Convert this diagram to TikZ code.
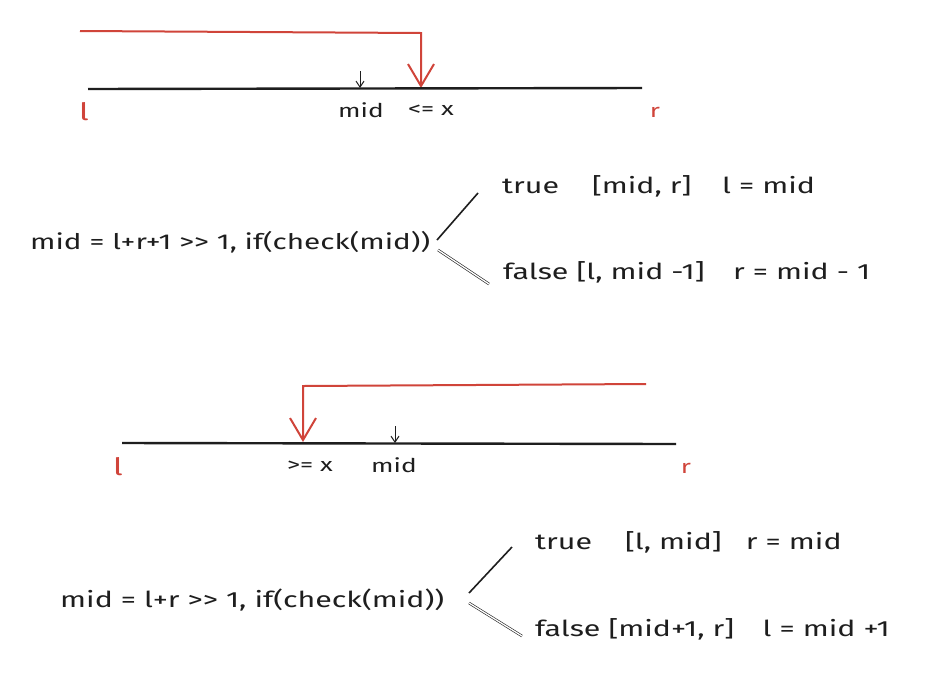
\documentclass[tikz,border=0pt]{standalone}
\usepackage{fontspec}
\setmainfont{Fira Sans}[FakeStretch=1.38, Ligatures=NoCommon]
\usetikzlibrary{arrows.meta}
\definecolor{rd}{HTML}{D0443A}
\definecolor{ink}{HTML}{1E1E1E}
\tikzset{
  redline/.style={draw=rd, line width=2pt},
  axis/.style={draw=ink, line width=2.4pt},
  midarrow/.style={draw=ink, line width=1pt, -{Straight Barb[length=6pt,width=8pt,line width=1pt]}},
  bigarrow/.style={redline, -{Straight Barb[length=22pt,width=26pt,line width=2pt]}},
  lbl/.style={inner sep=0pt, font=\fontsize{19}{22}\selectfont, text=ink},
  redlbl/.style={lbl, text=rd},
  stmt/.style={inner sep=0pt, anchor=west, font=\fontsize{22}{26}\selectfont, text=ink},
  branch/.style={draw=ink, line width=1.6pt},
  dbranch/.style={draw=ink, line width=0.6pt, double=white, double distance=1.3pt},
}
\begin{document}
\begin{tikzpicture}[x=1pt,y=-1pt]
\useasboundingbox[fill=white] (0,0) rectangle (944,694);
% ---------- top ----------
\coordinate (t1a) at (80,31);
\coordinate (t1b) at (421,33);
\coordinate (t1c) at (421,88);
\draw[bigarrow] (t1a) -- (t1b) -- (t1c);
\coordinate (ax1l) at (88,89);
\coordinate (ax1r) at (642,88);
\draw[axis] (ax1l) -- (ax1r);
\coordinate (m1a) at (360,71);
\coordinate (m1b) at (360,88);
\draw[midarrow] (m1a) -- (m1b);
\node[redlbl, font=\fontsize{24}{28}\selectfont] (l1) at (84,112) {l};
\node[lbl] (mid1) at (361,110) {mid};
\node[lbl] (le1) at (431,110) {<= x};
\node[redlbl] (r1) at (655,112) {r};
% ---------- statement 1 ----------
\node[stmt, font=\fontsize{21.5}{26}\selectfont] (s1) at (30,242) {mid = l+r+1 >{}> 1, if(check(mid))};
\node[stmt] (tr1) at (502,186) {true\hspace{1.5em}[mid, r]\hspace{1.4em}l = mid};
\node[stmt] (fa1) at (503,272) {false [l, mid -1]\hspace{1.3em}r = mid - 1};
\coordinate (b1s) at (437,240);
\coordinate (b1t) at (478,193);
\coordinate (b1u) at (438,250);
\coordinate (b1f) at (489,284);
\draw[branch] (b1s) -- (b1t);
\draw[dbranch] (b1u) -- (b1f);
% ---------- bottom ----------
\coordinate (t2a) at (646,384);
\coordinate (t2b) at (303,386);
\coordinate (t2c) at (303,442);
\draw[bigarrow] (t2a) -- (t2b) -- (t2c);
\coordinate (ax2l) at (122,443);
\coordinate (ax2r) at (676,444);
\draw[axis] (ax2l) -- (ax2r);
\coordinate (m2a) at (395,426);
\coordinate (m2b) at (395,443);
\draw[midarrow] (m2a) -- (m2b);
\node[redlbl, font=\fontsize{24}{28}\selectfont] (l2) at (118,467) {l};
\node[lbl] (ge2) at (310,466) {>= x};
\node[lbl] (mid2) at (394,465) {mid};
\node[redlbl] (r2) at (686,468) {r};
% ---------- statement 2 ----------
\node[stmt] (s2) at (60,600) {mid = l+r >{}> 1, if(check(mid))};
\node[stmt] (tr2) at (535,542) {true\hspace{1.5em}[l, mid]\hspace{1.1em}r = mid};
\node[stmt] (fa2) at (535,629) {false [mid+1, r]\hspace{1.3em}l = mid +1};
\coordinate (b2s) at (469,593);
\coordinate (b2t) at (512,547);
\coordinate (b2u) at (469,603);
\coordinate (b2f) at (522,636);
\draw[branch] (b2s) -- (b2t);
\draw[dbranch] (b2u) -- (b2f);
\end{tikzpicture}
\end{document}
